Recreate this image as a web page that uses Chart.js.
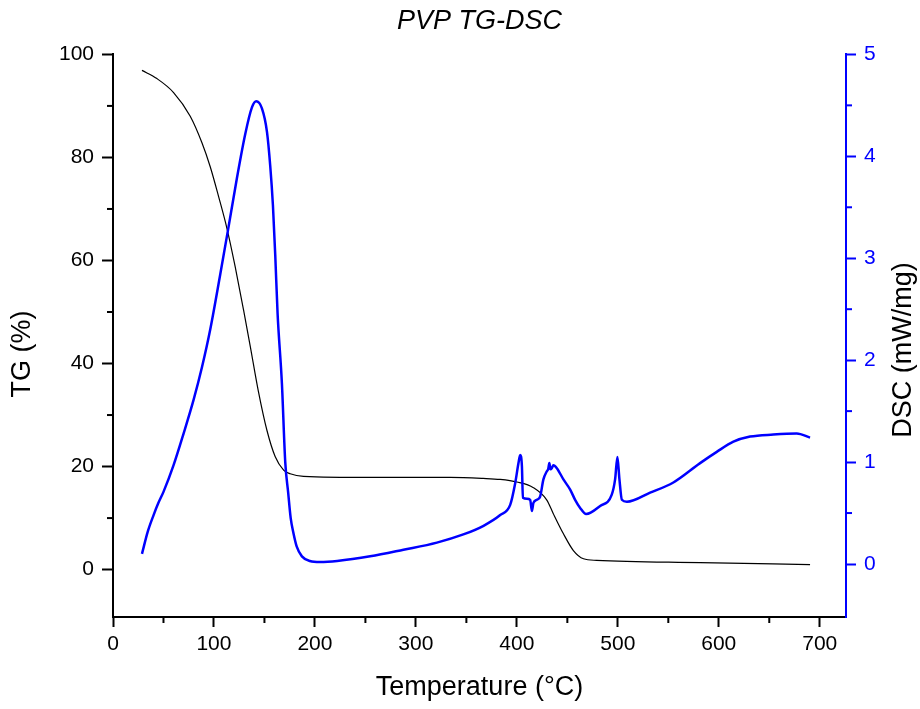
<!DOCTYPE html>
<html lang="en">
<head>
  <meta charset="UTF-8">
  <title>PVP TG-DSC</title>
  <script src="https://cdn.jsdelivr.net/npm/chart.js"></script>
  <style>
    body { margin: 0; background: #fff; }
    canvas { display: block; }
  </style>
</head>
<body>
  <canvas id="chart" width="920" height="709"></canvas>
  <script>
    // TG curve (temperature °C, mass %)
    const tgTemp = [28.7, 43.5, 60, 76.5, 88, 96.3, 104.6, 112.9, 121, 129.3, 136, 144, 152.5, 160.7, 169, 175.5, 188.7, 254.7, 334, 366.6, 383.5, 400, 416.4, 429.7, 436, 446, 456, 466, 479, 581.5, 690.4];
    const tgValue = [96.9, 95.3, 92.6, 88.0, 82.9, 78.2, 72.4, 66.2, 58.8, 50.4, 43.3, 34.6, 27.0, 21.9, 19.3, 18.6, 18.1, 17.9, 17.9, 17.7, 17.5, 17.0, 15.9, 13.5, 10.9, 7.0, 3.7, 2.1, 1.8, 1.35, 0.97];

    // DSC curve (temperature °C, mW/mg)
    const dscTemp = [28.7, 34.5, 40.2, 45, 50.1, 60, 69.9, 79.8, 88.1, 96.3, 106.2, 114.5, 122.8, 131, 137.6, 141.9, 147.5, 152.5, 155.7, 158.4, 160.7, 163, 167.3, 170.6, 173.5, 176, 178.8, 182, 187.1, 195, 205, 222, 254.7, 287.7, 320.8, 347, 367, 383.5, 393.4, 398.3, 401.6, 403.3, 405, 406, 410, 413.2, 414.9, 416.4, 419.8, 423, 426.3, 429.7, 431, 432.2, 433.2, 434.6, 436.2, 439.6, 446.1, 452.8, 457.7, 462.7, 468.6, 482.5, 494, 497.3, 499.6, 501.6, 504, 509, 532, 555, 581.5, 598, 614.5, 631, 654, 677.2, 690.4];
    const dscValue = [0.10, 0.32, 0.48, 0.60, 0.71, 0.97, 1.28, 1.61, 1.93, 2.30, 2.84, 3.31, 3.79, 4.22, 4.48, 4.54, 4.47, 4.24, 3.91, 3.52, 3.03, 2.46, 1.77, 1.00, 0.70, 0.45, 0.30, 0.17, 0.075, 0.03, 0.02, 0.03, 0.075, 0.14, 0.21, 0.29, 0.375, 0.48, 0.58, 0.79, 0.99, 1.07, 0.96, 0.65, 0.64, 0.63, 0.52, 0.60, 0.63, 0.66, 0.83, 0.91, 0.93, 0.99, 0.93, 0.94, 0.97, 0.94, 0.83, 0.73, 0.63, 0.55, 0.49, 0.57, 0.68, 0.83, 1.05, 0.83, 0.63, 0.61, 0.70, 0.80, 0.99, 1.10, 1.20, 1.25, 1.27, 1.28, 1.24];

    // minor tick positions
    const xMinorTicks = [50, 150, 250, 350, 450, 550, 650];
    const tgMinorTicks = [10, 30, 50, 70, 90];
    const dscMinorTicks = [0.5, 1.5, 2.5, 3.5, 4.5];

    const FONT = "'Liberation Sans', Arial, sans-serif";
    const BLUE = '#0000ff';
    Chart.defaults.font.family = FONT;
    Chart.defaults.color = '#000';

    const toPoints = (xs, ys) => xs.map((x, i) => ({ x, y: ys[i] }));

    // minor ticks + y-axis titles (both read bottom to top)
    const extras = {
      id: 'extras',
      afterDraw(chart) {
        const { ctx, chartArea, scales } = chart;
        ctx.save();
        ctx.lineWidth = 2;
        ctx.strokeStyle = '#000';
        xMinorTicks.forEach(v => {
          const px = scales.x.getPixelForValue(v);
          ctx.beginPath(); ctx.moveTo(px, chartArea.bottom); ctx.lineTo(px, chartArea.bottom + 6); ctx.stroke();
        });
        tgMinorTicks.forEach(v => {
          const py = scales.tg.getPixelForValue(v);
          ctx.beginPath(); ctx.moveTo(chartArea.left, py); ctx.lineTo(chartArea.left - 6, py); ctx.stroke();
        });
        ctx.strokeStyle = BLUE;
        dscMinorTicks.forEach(v => {
          const py = scales.dsc.getPixelForValue(v);
          ctx.beginPath(); ctx.moveTo(chartArea.right, py); ctx.lineTo(chartArea.right + 6, py); ctx.stroke();
        });

        ctx.fillStyle = '#000';
        ctx.font = '27px ' + FONT;
        ctx.textAlign = 'center';
        ctx.textBaseline = 'middle';
        [['TG (%)', 23, 354], ['DSC (mW/mg)', 904, 350]].forEach(([txt, x, y]) => {
          ctx.save();
          ctx.translate(x, y);
          ctx.rotate(-Math.PI / 2);
          ctx.fillText(txt, 0, 0);
          ctx.restore();
        });
        ctx.restore();
      }
    };

    new Chart(document.getElementById('chart'), {
      type: 'line',
      data: {
        datasets: [
          {
            label: 'DSC',
            data: toPoints(dscTemp, dscValue),
            yAxisID: 'dsc',
            borderColor: BLUE,
            borderWidth: 2.5,
            pointRadius: 0,
            cubicInterpolationMode: 'monotone'
          },
          {
            label: 'TG',
            data: toPoints(tgTemp, tgValue),
            yAxisID: 'tg',
            borderColor: '#000',
            borderWidth: 1.2,
            pointRadius: 0,
            cubicInterpolationMode: 'monotone'
          }
        ]
      },
      options: {
        responsive: false,
        animation: false,
        layout: { padding: 0 },
        plugins: {
          legend: { display: false },
          tooltip: { enabled: false },
          title: {
            display: true,
            text: 'PVP TG-DSC',
            fullSize: false,
            color: '#000',
            font: { size: 27, style: 'italic', weight: 'normal' },
            padding: { top: 5, bottom: 17 }
          }
        },
        scales: {
          x: {
            type: 'linear',
            min: 0,
            max: 726,
            ticks: { stepSize: 100, includeBounds: false, padding: 5, color: '#000', font: { size: 21 } },
            grid: { drawOnChartArea: false, tickLength: 10, tickWidth: 2, tickColor: '#000' },
            border: { color: '#000', width: 2 },
            title: { display: true, text: 'Temperature (°C)', color: '#000', font: { size: 27 }, padding: { top: 0, bottom: 5 } },
            afterFit: s => { s.height = 92; }
          },
          tg: {
            type: 'linear',
            position: 'left',
            min: -9.2,
            max: 100,
            ticks: { stepSize: 20, includeBounds: false, padding: 8, color: '#000', font: { size: 21 } },
            grid: { drawOnChartArea: false, tickLength: 11, tickWidth: 2, tickColor: '#000' },
            border: { color: '#000', width: 2 },
            afterFit: s => { s.width = 113; }
          },
          dsc: {
            type: 'linear',
            position: 'right',
            min: -0.52,
            max: 5,
            ticks: { stepSize: 1, includeBounds: false, padding: 8, color: BLUE, font: { size: 21 } },
            grid: { drawOnChartArea: false, tickLength: 10, tickWidth: 2, tickColor: BLUE },
            border: { color: BLUE, width: 2 },
            afterFit: s => { s.width = 74; }
          }
        }
      },
      plugins: [extras]
    });
  </script>
</body>
</html>
